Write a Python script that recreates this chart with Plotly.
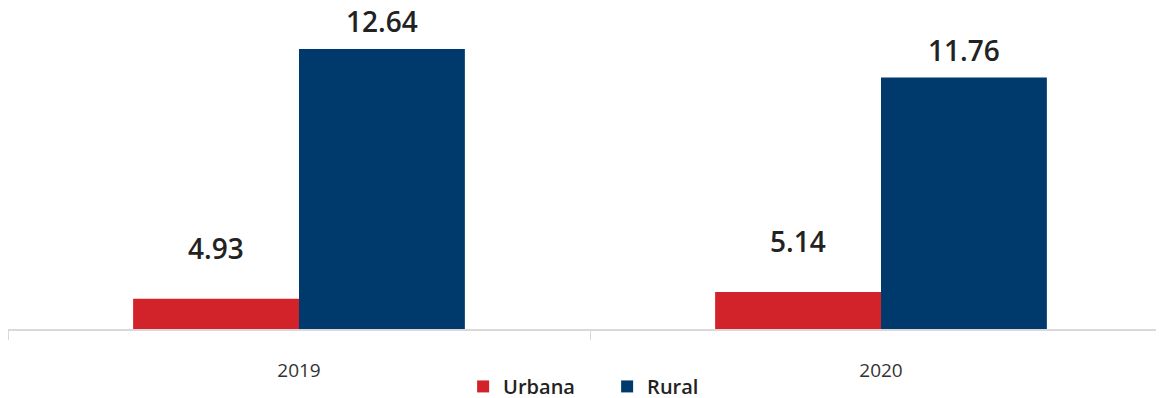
import plotly.graph_objects as go

years = ["2019", "2020"]
urbana = [4.93, 5.14]
rural = [12.64, 11.76]

red = "#d2232a"
blue = "#003a6c"
font_family = "Open Sans"

fig = go.Figure()
fig.add_bar(x=years, y=urbana, name="Urbana", marker_color=red, marker_line_width=0)
fig.add_bar(x=years, y=rural, name="Rural", marker_color=blue, marker_line_width=0)

# value labels above each bar; x given as category index so "2019" isn't read as a number
for vals, shift, lift in [(urbana, -83, 30), (rural, 83, 7)]:
    for i, v in enumerate(vals):
        fig.add_annotation(
            x=i, y=v, text=f"{v:.2f}", showarrow=False,
            xshift=shift, yshift=lift, yanchor="bottom",
            font=dict(family=font_family, size=28, color="#222222", weight=600),
        )

fig.update_layout(
    width=1164, height=398,
    margin=dict(l=0, r=0, t=2, b=77, autoexpand=False),
    plot_bgcolor="white", paper_bgcolor="white",
    barmode="group", bargap=0.43, bargroupgap=0,
    showlegend=True,
    legend=dict(
        orientation="h", x=0.391, xanchor="left", y=-0.18, yanchor="middle",
        font=dict(family=font_family, size=20, color="#222222", weight=600),
        traceorder="normal", itemwidth=30,
        entrywidth=99, entrywidthmode="pixels",
    ),
    font=dict(family=font_family),
)
fig.update_xaxes(
    type="category", range=[-0.5, 1.5], automargin=False,
    showline=True, linecolor="#d9d9d9", linewidth=2,
    ticks="outside", tickson="boundaries", ticklen=9, tickcolor="#d9d9d9", tickwidth=1,
    tickfont=dict(family=font_family, size=19, color="#333333"),
    ticklabelstandoff=23,
)
fig.update_yaxes(range=[4, 4 + 319 / 32.4], automargin=False, showticklabels=False,
                 showgrid=False, zeroline=False, showline=False, ticks="")

fig.write_html("out.html")
